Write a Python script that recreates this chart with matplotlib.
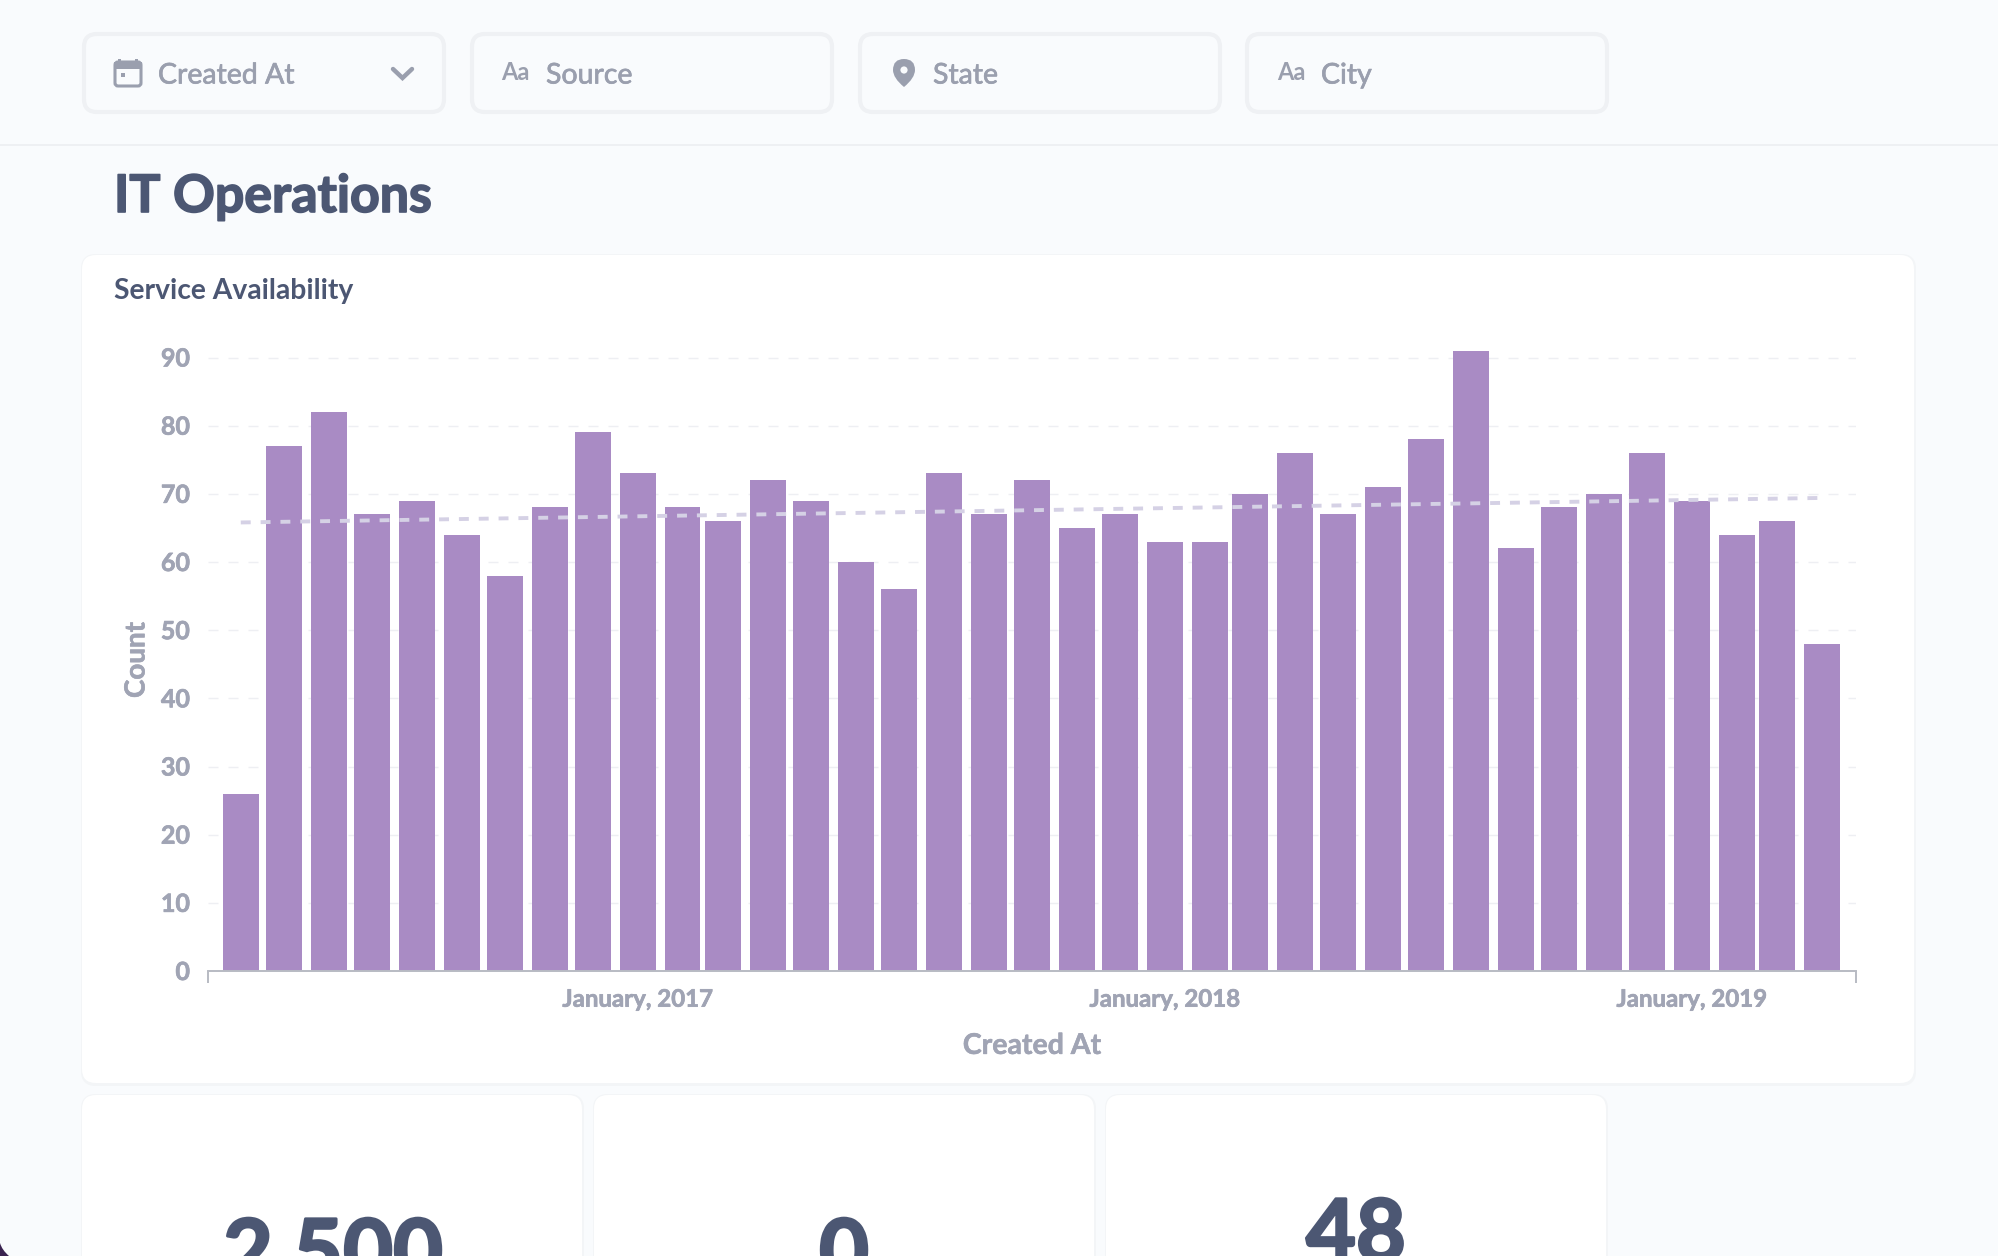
import datetime as dt
import matplotlib
matplotlib.use("Agg")
import matplotlib.pyplot as plt
import matplotlib.dates as mdates
import matplotlib.patheffects as pe
from matplotlib.patches import FancyBboxPatch, Rectangle, PathPatch, Circle
from matplotlib.path import Path
from matplotlib.transforms import ScaledTranslation

plt.rcParams['font.family'] = ['Lato', 'DejaVu Sans']

W, H = 1998, 1256

# ---- data ----
values = [26, 77, 82, 67, 69, 64, 58, 68, 79, 73, 68, 66, 72, 69, 60, 56, 73, 67, 72,
          65, 67, 63, 63, 70, 76, 67, 71, 78, 91, 62, 68, 70, 76, 69, 64, 66, 48]
first_year, first_month = 2016, 4
months = [dt.date(first_year + (first_month - 1 + i) // 12, (first_month - 1 + i) % 12 + 1, 1)
          for i in range(len(values))]
trend_dates = [dt.date(2016, 4, 1), dt.date(2019, 4, 1)]
trend_values = [65.8, 69.4]
y_ticks = [0, 10, 20, 30, 40, 50, 60, 70, 80, 90]
x_tick_dates = [dt.date(2017, 1, 1), dt.date(2018, 1, 1), dt.date(2019, 1, 1)]
x_tick_labels = ["January, 2017", "January, 2018", "January, 2019"]
filters = ["Created At", "Source", "State", "City"]
page_title = "IT Operations"
card_title = "Service Availability"
kpis = ["2,500", "0", "48"]

BG = "#f9fbfd"
DARK = "#4c5773"
MUTED = "#9a9fae"
TICK = "#a0a4b4"
BAR = "#a98bc4"


def heavy(color, w):
    return [pe.withStroke(linewidth=w, foreground=color)]


fig = plt.figure(figsize=(W / 100, H / 100), dpi=100, facecolor=BG)

# ---- page layer in pixels ----
bgax = fig.add_axes([0, 0, 1, 1], zorder=0)
bgax.set_xlim(0, W)
bgax.set_ylim(H, 0)
bgax.axis("off")


def card(x0, y0, x1, y1, r=14, fc="white", ec="none", lw=0, z=1):
    p = FancyBboxPatch((x0 + r, y0 + r), x1 - x0 - 2 * r, y1 - y0 - 2 * r,
                       boxstyle=f"round,pad={r},rounding_size={r}",
                       fc=fc, ec=ec, lw=lw, zorder=z)
    bgax.add_patch(p)


# corner of the window behind the page
bgax.add_patch(PathPatch(Path([(0, 1243), (2, 1250), (9, 1256), (0, 1256), (0, 1243)],
                              [Path.MOVETO, Path.CURVE3, Path.CURVE3, Path.LINETO, Path.CLOSEPOLY]),
                         fc="#3a2350", ec="none", zorder=1))

# header rule
bgax.plot([0, W], [145, 145], color="#eceef1", lw=1.2, zorder=1)

# filter boxes
for x0, x1 in [(84, 444), (472, 832), (860, 1220), (1247, 1607)]:
    card(x0, 34, x1, 112, r=13, fc=BG, ec="#eff1f4", lw=3, z=2)

fs_filter = 20.5
for fx, label in zip([158, 546, 933, 1321], filters):
    bgax.text(fx, 75.5, label, color=MUTED, fontsize=fs_filter, va="center", ha="left", zorder=3,
              path_effects=heavy(MUTED, 0.5))
bgax.text(501, 72, "Aa", color=MUTED, fontsize=17, fontweight="bold", va="center", ha="left", zorder=3)
bgax.text(1277, 72, "Aa", color=MUTED, fontsize=17, fontweight="bold", va="center", ha="left", zorder=3)

# calendar icon
card(115, 62, 141, 86, r=3, fc="none", ec=MUTED, lw=2.2, z=3)
bgax.add_patch(Rectangle((114, 62), 28, 7, fc=MUTED, ec="none", zorder=3))
bgax.add_patch(Rectangle((118, 59), 3, 4, fc=MUTED, ec="none", zorder=3))
bgax.add_patch(Rectangle((135, 59), 3, 4, fc=MUTED, ec="none", zorder=3))
bgax.add_patch(Rectangle((121, 73), 4, 4, fc=MUTED, ec="none", zorder=3))

# chevron
bgax.plot([393, 402.5, 412], [69, 78, 69], color=MUTED, lw=3.2, zorder=3,
          solid_capstyle="round", solid_joinstyle="miter")

# pin icon
cx, cy = 904, 70
pin = Path([(cx, 87), (cx - 11, 78), (cx - 11, 70), (cx - 11, 59), (cx, 59),
            (cx + 11, 59), (cx + 11, 70), (cx + 11, 78), (cx, 87), (cx, 87)],
           [Path.MOVETO, Path.CURVE3, Path.CURVE3, Path.CURVE3, Path.CURVE3,
            Path.CURVE3, Path.CURVE3, Path.CURVE3, Path.CURVE3, Path.CLOSEPOLY])
bgax.add_patch(PathPatch(pin, fc=MUTED, ec="none", zorder=3))
bgax.add_patch(Circle((cx, cy), 3.6, fc=BG, ec="none", zorder=4))

# titles
bgax.text(114, 197.5, page_title, color=DARK, fontsize=37.3, fontweight="bold", va="center", ha="left", zorder=3,
          path_effects=heavy(DARK, 1.2))

# cards, each with a soft shadow
for x0, y0, x1, y1 in [(82, 255, 1914, 1083), (82, 1095, 582, 1300), (594, 1095, 1094, 1300), (1106, 1095, 1606, 1300)]:
    card(x0 - 1, y0 - 1, x1 + 2, y1 + 3, r=15, fc="#f3f5f7", z=1)
    card(x0, y0, x1, y1, r=14, fc="white", z=2)

bgax.text(114, 291.5, card_title, color=DARK, fontsize=20.3, fontweight="bold", va="center", ha="left", zorder=3)

# KPI numbers, cropped by the bottom edge
for xc, base, s in [(333, 1281, kpis[0]), (844, 1281, kpis[1]), (1356, 1261, kpis[2])]:
    bgax.text(xc, base, s, color=DARK, fontsize=62, fontweight="bold", va="baseline", ha="center", zorder=3,
              path_effects=heavy(DARK, 2.0))

# ---- chart ----
axis_left, axis_right, axis_bottom, y90 = 208, 1856, 971, 357.5
ymax = 95
px_per_unit = (axis_bottom - y90) / 90
axis_top = axis_bottom - ymax * px_per_unit
ax = fig.add_axes([axis_left / W, 1 - axis_bottom / H, (axis_right - axis_left) / W,
                   (axis_bottom - axis_top) / H], zorder=2)
ax.patch.set_alpha(0)

ax.bar(months, values, width=24.7, color=BAR, zorder=2)
ax.plot(trend_dates, trend_values, color="#d5d1e5", lw=2.8, dashes=(2.55, 2.55), zorder=3,
        dash_capstyle="butt")

x0 = mdates.date2num(months[0]) - 22.7
x1 = mdates.date2num(months[-1]) + 23.6
ax.set_xlim(x0, x1)
ax.set_ylim(0, ymax)

for s in ("top", "right", "left"):
    ax.spines[s].set_visible(False)
ax.spines["bottom"].set_color("#b8bbc3")
ax.spines["bottom"].set_linewidth(1.4)

ax.set_yticks(y_ticks)
ax.set_yticklabels([str(v) for v in y_ticks], color=TICK, fontsize=18, fontweight="bold")
ax.tick_params(axis="y", length=0, pad=13)
nudge = ScaledTranslation(0, -1.5 / 100, fig.dpi_scale_trans)
for lab in ax.get_yticklabels():
    lab.set_verticalalignment("center")
    lab.set_transform(lab.get_transform() + nudge)
    lab.set_path_effects(heavy(TICK, 0.5))

ax.set_xticks(mdates.date2num(x_tick_dates))
ax.set_xticklabels(x_tick_labels, color=TICK, fontsize=17.3, fontweight="bold")
ax.tick_params(axis="x", which="major", length=0, pad=12)
for lab in ax.get_xticklabels():
    lab.set_path_effects(heavy(TICK, 0.5))
ax.set_xticks([x0, x1], minor=True)
ax.tick_params(axis="x", which="minor", length=8.6, width=1.4, color="#b8bbc3")

ax.grid(axis="y", color="#eeeff3", lw=1, dashes=(7.2, 7.2), zorder=0)
ax.set_axisbelow(True)

ax.set_xlabel("Created At", color=TICK, fontsize=20.5, fontweight="bold", labelpad=16,
              path_effects=heavy(TICK, 0.4))
ax.set_ylabel("Count", color=TICK, fontsize=20, fontweight="bold", labelpad=14,
              path_effects=heavy(TICK, 0.4))
ax.yaxis.set_label_coords((149.5 - axis_left) / (axis_right - axis_left),
                          (axis_bottom - 660) / (axis_bottom - axis_top))

fig.savefig("out.png", dpi=100, facecolor=BG)
